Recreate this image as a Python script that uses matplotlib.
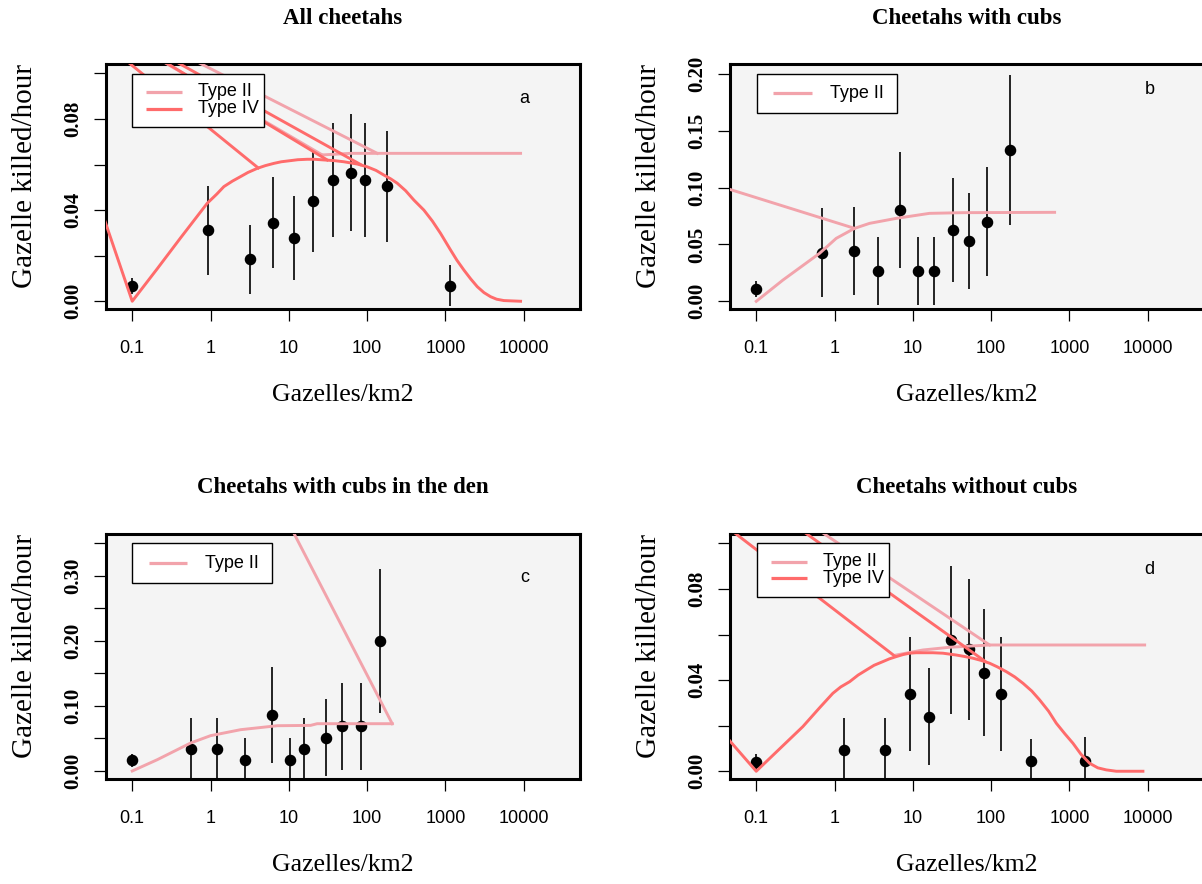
import matplotlib
matplotlib.use("Agg")
import matplotlib.pyplot as plt
from matplotlib.patches import Rectangle

# ---------------- texts ----------------
titles = ["All cheetahs", "Cheetahs with cubs",
          "Cheetahs with cubs in the den", "Cheetahs without cubs"]
letters = ["a", "b", "c", "d"]
x_label = "Gazelles/km2"
y_label = "Gazelle killed/hour"
series_names = ["Type II", "Type IV"]

x_ticks = [0.1, 1, 10, 100, 1000, 10000]
x_tick_labels = ["0.1", "1", "10", "100", "1000", "10000"]

# ---------------- panel a : all cheetahs ----------------
a_density = [0.1, 0.925, 3.15, 6.3, 11.8, 20.5, 36.9, 62.6, 92.7, 181, 1127]
a_rate = [0.0067, 0.0311, 0.0184, 0.0345, 0.0279, 0.0439, 0.0532, 0.0564, 0.0532, 0.0504, 0.0067]
a_se = [0.0033, 0.0196, 0.0150, 0.0200, 0.0185, 0.0225, 0.0250, 0.0256, 0.0250, 0.0245, 0.0090]
a_t4_x = [0.0293, 0.1, 0.209, 0.414, 0.676, 0.908, 1.2, 1.48, 1.9, 2.42, 3.0, 3.94, 5.0, 6.44,
          8.0, 10.5, 13, 17.2, 21, 28.0, 38, 50.5, 74.7, 100, 130, 163, 200, 242, 310, 395, 530,
          680, 865, 1161, 1400, 1718, 2100, 2547, 3100, 3767, 4500, 5572, 9100]
a_t4_y = [0.0538, 0.0, 0.0143, 0.0278, 0.0373, 0.0430, 0.0470, 0.0503, 0.0527, 0.0547, 0.0565,
          0.0583, 0.0595, 0.0605, 0.0612, 0.0617, 0.0621, 0.0623, 0.0623, 0.0620, 0.0617,
          0.0612, 0.0602, 0.0590, 0.0574, 0.0554, 0.0537, 0.0518, 0.0485, 0.0444, 0.0400,
          0.0352, 0.0298, 0.0225, 0.0180, 0.0137, 0.0098, 0.0064, 0.0038, 0.0020, 0.0009,
          0.0003, 0.0]
a_t2_x = [26.7, 61.4, 9100]
a_t2_y = [0.0642, 0.0649, 0.0649]
a_t2_jump_x = [(0.341, 134.6), (0.139, 26.7)]
a_t2_jump_y = [(0.1102, 0.0649), (0.1102, 0.0642)]
a_t4_jump_x = [(0.0572, 4.06), (0.196, 82.4), (0.146, 30.9)]
a_t4_jump_y = [(0.1102, 0.0585), (0.1102, 0.0600), (0.1102, 0.0620)]

# ---------------- panel b : cheetahs with cubs ----------------
b_density = [0.1, 0.689, 1.75, 3.57, 6.90, 11.8, 18.5, 32.1, 52.0, 89.2, 172]
b_rate = [0.0106, 0.0428, 0.0443, 0.0267, 0.0804, 0.0267, 0.0267, 0.0628, 0.0531, 0.0701, 0.1332]
b_se = [0.0070, 0.0389, 0.0390, 0.0300, 0.0513, 0.0300, 0.0300, 0.0455, 0.0420, 0.0480, 0.0658]
b_t2_x = [0.1, 0.219, 0.643, 1.05, 1.80, 2.80, 6.14, 16.3, 43.6, 646]
b_t2_y = [0.0, 0.0187, 0.0422, 0.0554, 0.0642, 0.0686, 0.0730, 0.0774, 0.0780, 0.0783]
b_t2_jump_x = [(0.0189, 1.80)]
b_t2_jump_y = [(0.1068, 0.0642)]

# ---------------- panel c : cubs in the den ----------------
c_density = [0.1, 0.571, 1.22, 2.72, 6.14, 10.3, 15.6, 29.4, 48.1, 82.4, 148]
c_rate = [0.0164, 0.0343, 0.0343, 0.0164, 0.0860, 0.0164, 0.0343, 0.0512, 0.0686, 0.0686, 0.2002]
c_se = [0.0095, 0.047, 0.047, 0.035, 0.074, 0.035, 0.047, 0.059, 0.0666, 0.0666, 0.111]
c_t2_x = [0.1, 0.209, 0.556, 1.0, 2.42, 7.1, 18.9, 23.0, 209]
c_t2_y = [0.0, 0.0174, 0.0430, 0.0543, 0.0635, 0.0696, 0.0701, 0.0727, 0.0727]
c_t2_jump_x = [(9.47, 209)]
c_t2_jump_y = [(0.386, 0.0727)]

# ---------------- panel d : without cubs ----------------
d_density = [0.1, 1.32, 4.44, 9.08, 16.0, 30.3, 52.0, 80.9, 132, 326, 1596]
d_rate = [0.0039, 0.0093, 0.0093, 0.0339, 0.0240, 0.0576, 0.0535, 0.0432, 0.0339, 0.0047, 0.0047]
d_se = [0.0035, 0.0142, 0.0142, 0.0249, 0.0212, 0.0323, 0.0310, 0.0278, 0.0249, 0.0093, 0.0105]
d_t4_x = [0.0254, 0.1, 0.394, 0.65, 0.951, 1.2, 1.56, 2.0, 2.54, 3.2, 4.14, 5.0, 6.14, 7.5,
          9.08, 11, 13.4, 18, 24.2, 35.8, 45, 58.5, 75, 95.5, 120, 156, 200, 255, 330, 416, 540,
          678, 870, 1107, 1400, 1807, 2300, 2951, 3963, 8670]
d_t4_y = [0.0235, 0.0, 0.0196, 0.0280, 0.0342, 0.0370, 0.0393, 0.0422, 0.0444, 0.0465, 0.0481,
          0.0493, 0.0503, 0.0512, 0.0518, 0.0520, 0.0520, 0.0520, 0.0518, 0.0510, 0.0504,
          0.0496, 0.0486, 0.0474, 0.0458, 0.0437, 0.0414, 0.0386, 0.0352, 0.0313, 0.0264,
          0.0211, 0.0165, 0.0123, 0.0075, 0.0035, 0.0015, 0.0006, 0.0, 0.0]
d_t2_x = [6.14, 13.4, 29.5, 95.5, 9120]
d_t2_y = [0.0510, 0.0532, 0.0544, 0.0554, 0.0554]
d_t2_jump_x = [(0.404, 95.5)]
d_t2_jump_y = [(0.1102, 0.0554)]
d_t4_jump_x = [(0.0325, 5.84), (0.250, 82.4)]
d_t4_jump_y = [(0.1102, 0.0506), (0.1102, 0.0484)]

# y axis definitions
a_yticks = [0.00, 0.02, 0.04, 0.06, 0.08, 0.10]
a_ylabels = ["0.00", "", "0.04", "", "0.08", ""]
b_yticks = [0.00, 0.05, 0.10, 0.15, 0.20]
b_ylabels = ["0.00", "0.05", "0.10", "0.15", "0.20"]
c_yticks = [0.00, 0.05, 0.10, 0.15, 0.20, 0.25, 0.30, 0.35]
c_ylabels = ["0.00", "", "0.10", "", "0.20", "", "0.30", ""]

# ---------------- style ----------------
T2_COLOR = "#F2A3AB"
T4_COLOR = "#FF6B6B"
BG = "#F4F4F4"
SERIF = ["Liberation Serif", "DejaVu Serif"]
SANS = ["Liberation Sans", "DejaVu Sans"]

W, H, DPI = 1202, 884, 100
AW, AH = 474, 245            # axes size in px
XLIM = (10 ** -1.335, 10 ** 4.718)

panels = [
    dict(pos=(106, 64), ylim=(-0.0034, 0.1041), yt=a_yticks, yl=a_ylabels,
         x=a_density, y=a_rate, e=a_se,
         t4=(a_t4_x, a_t4_y), t2=(a_t2_x, a_t2_y),
         j2=(a_t2_jump_x, a_t2_jump_y), j4=(a_t4_jump_x, a_t4_jump_y),
         leg=dict(box=(26, 9.7, 157.7, 63), lx=(40, 76), rows=(28, 44.7), tx=91.7, n=2),
         letter=(418.3, 34.3)),
    dict(pos=(730, 64), ylim=(-0.00675, 0.2088), yt=b_yticks, yl=b_ylabels,
         x=b_density, y=b_rate, e=b_se,
         t4=None, t2=(b_t2_x, b_t2_y),
         j2=(b_t2_jump_x, b_t2_jump_y), j4=None,
         leg=dict(box=(26.7, 10, 166.7, 49.3), lx=(43.3, 81.7), rows=(29.3,), tx=100, n=1),
         letter=(419.3, 25.3)),
    dict(pos=(106, 534), ylim=(-0.0123, 0.3643), yt=c_yticks, yl=c_ylabels,
         x=c_density, y=c_rate, e=c_se,
         t4=None, t2=(c_t2_x, c_t2_y),
         j2=(c_t2_jump_x, c_t2_jump_y), j4=None,
         leg=dict(box=(25.7, 9.3, 165.7, 48.7), lx=(43.3, 81.3), rows=(29.3,), tx=99, n=1),
         letter=(418.3, 43.7)),
    dict(pos=(730, 534), ylim=(-0.0034, 0.1041), yt=a_yticks, yl=a_ylabels,
         x=d_density, y=d_rate, e=d_se,
         t4=(d_t4_x, d_t4_y), t2=(d_t2_x, d_t2_y),
         j2=(d_t2_jump_x, d_t2_jump_y), j4=(d_t4_jump_x, d_t4_jump_y),
         leg=dict(box=(26.7, 9.3, 159, 62.7), lx=(41, 76.7), rows=(27.7, 44.3), tx=92.7, n=2),
         letter=(419.3, 36)),
]

fig = plt.figure(figsize=(W / DPI, H / DPI), dpi=DPI, facecolor="white")


def fx(px):
    return px / AW


def fy(py):
    return 1 - py / AH


for i, p in enumerate(panels):
    left, top = p["pos"]
    ax = fig.add_axes([left / W, 1 - (top + AH) / H, AW / W, AH / H])
    ax.set_facecolor(BG)
    ax.set_xscale("log")
    ax.set_xlim(*XLIM)
    ax.set_ylim(*p["ylim"])

    # data with error bars
    ax.errorbar(p["x"], p["y"], yerr=p["e"], fmt="o", color="black", ms=7.3,
                elinewidth=1.2, capsize=0, zorder=3)

    lw = 2.1
    if p["t2"] is not None:
        ax.plot(*p["t2"], color=T2_COLOR, lw=lw, zorder=4, solid_joinstyle="round")
        for xs, ys in zip(*p["j2"]):
            ax.plot(xs, ys, color=T2_COLOR, lw=lw, zorder=4)
    if p["t4"] is not None:
        ax.plot(*p["t4"], color=T4_COLOR, lw=lw, zorder=5, solid_joinstyle="round")
        for xs, ys in zip(*p["j4"]):
            ax.plot(xs, ys, color=T4_COLOR, lw=lw, zorder=5)

    # axes styling
    for s in ax.spines.values():
        s.set_linewidth(2.2)
    ax.minorticks_off()
    ax.set_xticks(x_ticks)
    ax.set_xticklabels(x_tick_labels, fontfamily=SANS, fontsize=13)
    ax.set_yticks(p["yt"])
    ax.set_yticklabels(p["yl"], fontfamily=SERIF, fontsize=15, fontweight="bold",
                       rotation=90, va="center")
    ax.tick_params(axis="x", length=8.4, width=0.9, pad=14)
    ax.tick_params(axis="y", length=8.4, width=0.9, pad=8)
    ax.xaxis.set_minor_locator(matplotlib.ticker.NullLocator())

    # titles / labels
    ax.text(0.5, 1 + 46 / AH, titles[i], transform=ax.transAxes, ha="center", va="center",
            fontfamily=SERIF, fontsize=16.5, fontweight="bold")
    ax.text(0.5, -86 / AH, x_label, transform=ax.transAxes, ha="center", va="center",
            fontfamily=SERIF, fontsize=18.5)
    ax.text(-81 / AW, 0.5 + 11 / AH, y_label, transform=ax.transAxes, ha="center", va="center",
            rotation=90, fontfamily=SERIF, fontsize=21)

    # panel letter
    lx, ly = p["letter"]
    ax.text(fx(lx), fy(ly), letters[i], transform=ax.transAxes, ha="center", va="center",
            fontfamily=SANS, fontsize=13)

    # legend (R style box)
    lg = p["leg"]
    x0, y0, x1, y1 = lg["box"]
    ax.add_patch(Rectangle((fx(x0), fy(y1)), fx(x1) - fx(x0), fy(y0) - fy(y1),
                           transform=ax.transAxes, facecolor="white", edgecolor="black",
                           lw=1.0, zorder=10))
    colors = [T2_COLOR, T4_COLOR]
    for k in range(lg["n"]):
        ry = lg["rows"][k]
        ax.plot([fx(lg["lx"][0]), fx(lg["lx"][1])], [fy(ry), fy(ry)], color=colors[k], lw=2.3,
                transform=ax.transAxes, zorder=11, solid_capstyle="butt")
        ax.text(fx(lg["tx"]), fy(ry), series_names[k], transform=ax.transAxes, ha="left",
                va="center", fontfamily=SANS, fontsize=13, zorder=12)

fig.savefig("out.png", dpi=DPI, facecolor="white")
